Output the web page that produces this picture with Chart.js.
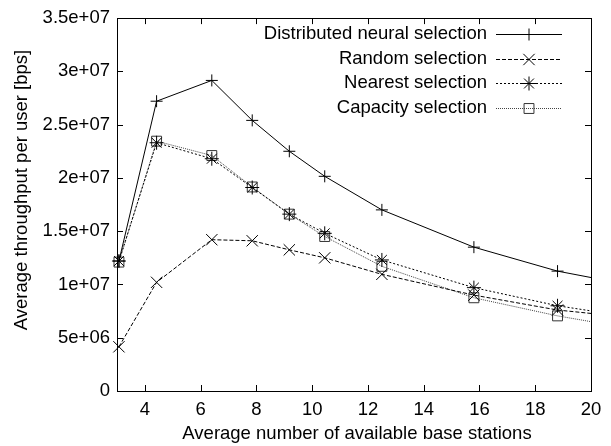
<!DOCTYPE html>
<html>
<head>
<meta charset="utf-8">
<script src="https://cdn.jsdelivr.net/npm/chart.js@4/dist/chart.umd.min.js"></script>
<style>
  body { margin: 0; background: #fff; }
  #wrap { width: 611px; height: 446px; }
</style>
</head>
<body>
<div id="wrap"><canvas id="chart" width="611" height="446"></canvas></div>
<script>
// average number of available base stations (last one lies past the axis end)
const stations = [3.07, 4.42, 6.4, 7.85, 9.18, 10.45, 12.5, 15.8, 18.8, 21.8];

// throughput per user [bps]
const neural   = [12.2e6, 27.2e6, 29.15e6, 25.4e6, 22.5e6, 20.15e6, 17.0e6, 13.5e6, 11.25e6, 9.75e6];
const random   = [4.15e6, 10.2e6, 14.2e6, 14.1e6, 13.25e6, 12.5e6, 10.95e6, 9.0e6, 7.6e6, 6.8e6];
const nearest  = [12.2e6, 23.3e6, 21.8e6, 19.1e6, 16.6e6, 14.8e6, 12.3e6, 9.7e6, 8.0e6, 6.8e6];
const capacity = [12.1e6, 23.45e6, 22.1e6, 19.15e6, 16.6e6, 14.5e6, 11.7e6, 8.75e6, 7.05e6, 5.7e6];

const seriesNames = ['Distributed neural selection', 'Random selection', 'Nearest selection', 'Capacity selection'];

const xTicks = [4, 6, 8, 10, 12, 14, 16, 18, 20];
const yTicks = [0, 5e6, 10e6, 15e6, 20e6, 25e6, 30e6, 35e6];
const yTickLabels = ['0', '5e+06', '1e+07', '1.5e+07', '2e+07', '2.5e+07', '3e+07', '3.5e+07'];

const FONT = '"Liberation Sans", Arial, sans-serif';
const FSIZE = 18.5;
const toPoints = vals => vals.map((v, i) => ({ x: stations[i], y: v }));

function makeSet(label, vals, style) {
  return Object.assign({
    label: label,
    data: toPoints(vals),
    showLine: true,
    borderWidth: 1,
    pointBorderWidth: 1,
    pointBackgroundColor: 'rgba(0,0,0,0)',
    fill: false,
    clip: { left: 12, top: 12, right: 0, bottom: 12 },
  }, style);
}

const datasets = [
  makeSet(seriesNames[0], neural,   { borderColor: '#000', pointBorderColor: '#000', pointStyle: 'cross', pointRadius: 6, borderDash: [] }),
  makeSet(seriesNames[1], random,   { borderColor: '#000', pointBorderColor: '#000', pointStyle: 'crossRot', pointRadius: 8, borderDash: [4, 2] }),
  makeSet(seriesNames[2], nearest,  { borderColor: '#000', pointBorderColor: '#000', pointStyle: 'star', pointRadius: 7, borderDash: [2, 2] }),
  makeSet(seriesNames[3], capacity, { borderColor: '#444', pointBorderColor: '#333', pointStyle: 'rect', pointRadius: 7, borderDash: [1, 1] }),
];

// frame, inward ticks, axis titles and gnuplot-like legend
const gnuplotLook = {
  id: 'gnuplotLook',
  afterDraw(chart) {
    const ctx = chart.ctx;
    const a = chart.chartArea;
    const xs = chart.scales.x, ys = chart.scales.y;
    ctx.save();
    ctx.strokeStyle = '#000';
    ctx.lineWidth = 1;
    ctx.setLineDash([]);
    ctx.strokeRect(Math.round(a.left) + 0.5, Math.round(a.top) + 0.5, Math.round(a.right - a.left), Math.round(a.bottom - a.top));
    ctx.beginPath();
    xTicks.forEach(t => {
      const px = Math.round(xs.getPixelForValue(t)) + 0.5;
      ctx.moveTo(px, a.bottom); ctx.lineTo(px, a.bottom - 6);
      ctx.moveTo(px, a.top); ctx.lineTo(px, a.top + 6);
    });
    yTicks.forEach(t => {
      const py = Math.round(ys.getPixelForValue(t)) + 0.5;
      ctx.moveTo(a.left, py); ctx.lineTo(a.left + 6, py);
      ctx.moveTo(a.right, py); ctx.lineTo(a.right - 6, py);
    });
    ctx.stroke();

    ctx.fillStyle = '#000';
    ctx.font = FSIZE + 'px ' + FONT;
    ctx.textAlign = 'center';
    ctx.textBaseline = 'middle';
    ctx.fillText('Average number of available base stations', 357, 434);
    ctx.save();
    ctx.translate(22, 190);
    ctx.rotate(-Math.PI / 2);
    ctx.fillText('Average throughput per user [bps]', 0, 0);
    ctx.restore();

    // legend
    chart.data.datasets.forEach((ds, i) => {
      const y = 34 + i * 24.7;
      ctx.fillStyle = '#000';
      ctx.textAlign = 'right';
      ctx.fillText(ds.label, 487, y);
      ctx.strokeStyle = ds.borderColor;
      ctx.setLineDash(ds.borderDash);
      ctx.beginPath();
      ctx.moveTo(496, Math.round(y) + 0.5);
      ctx.lineTo(562, Math.round(y) + 0.5);
      ctx.stroke();
      ctx.setLineDash([]);
      ctx.strokeStyle = ds.pointBorderColor;
      ctx.fillStyle = 'rgba(0,0,0,0)';
      ctx.lineWidth = 1;
      Chart.helpers.drawPoint(ctx, { pointStyle: ds.pointStyle, radius: ds.pointRadius, rotation: 0, borderWidth: 1 }, 529, Math.round(y) + 0.5);
    });
    ctx.restore();
  }
};

const config = {
  type: 'scatter',
  data: { datasets: datasets },
  options: {
    responsive: false,
    animation: false,
    layout: { padding: { top: 14, right: 20, left: 0, bottom: 0 } },
    plugins: {
      legend: { display: false },
      tooltip: { enabled: false },
    },
    scales: {
      x: {
        type: 'linear',
        min: 3,
        max: 20,
        afterBuildTicks: s => { s.ticks = xTicks.map(v => ({ value: v })); },
        afterFit: s => { s.height = 55; },
        grid: { display: false, drawTicks: false },
        border: { display: false },
        ticks: { padding: 8, color: '#000', font: { family: FONT, size: FSIZE }, maxRotation: 0 },
      },
      y: {
        type: 'linear',
        min: 0,
        max: 35e6,
        afterBuildTicks: s => { s.ticks = yTicks.map(v => ({ value: v })); },
        afterFit: s => { s.width = 117; },
        grid: { display: false, drawTicks: false },
        border: { display: false },
        ticks: {
          padding: 7,
          color: '#000',
          font: { family: FONT, size: FSIZE },
          callback: (v) => yTickLabels[yTicks.indexOf(v)],
        },
      },
    },
  },
  plugins: [gnuplotLook],
};

new Chart(document.getElementById('chart').getContext('2d'), config);
</script>
</body>
</html>
